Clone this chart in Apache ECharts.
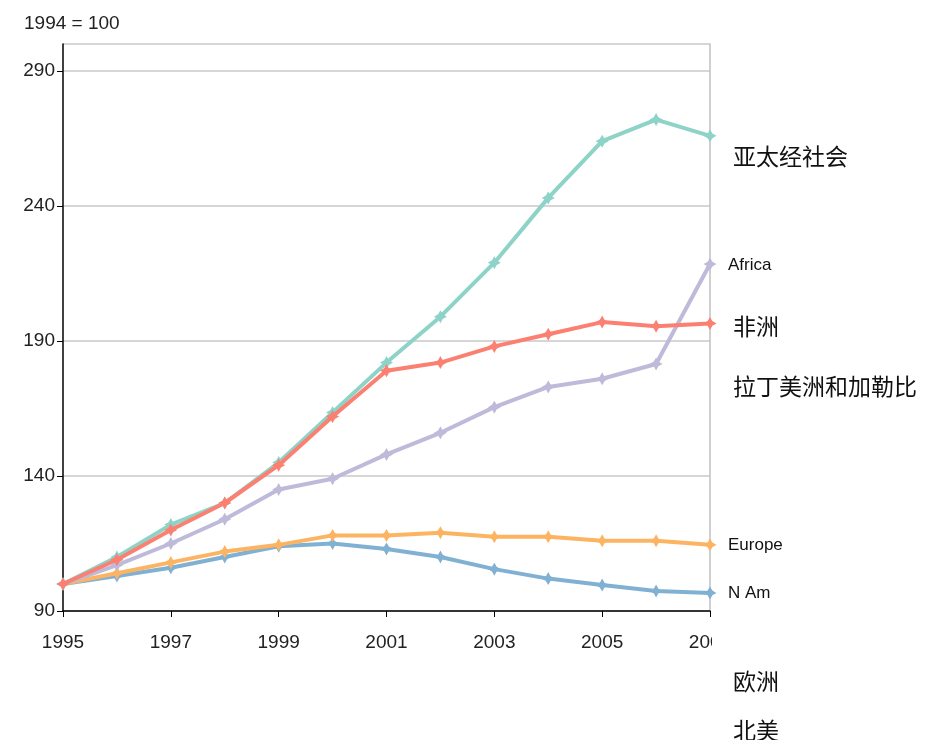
<!DOCTYPE html>
<html><head><meta charset="utf-8">
<script src="https://cdn.jsdelivr.net/npm/echarts@6/dist/echarts.min.js"></script>
<style>html,body{margin:0;padding:0;background:#fff}#c{width:925px;height:740px}</style>
</head><body><div id="c"></div>
<script>
var years = ['1995','1996','1997','1998','1999','2000','2001','2002','2003','2004','2005','2006','2007'];
var asiaPacific = [100,110,122,130,145,163.5,182,199,219,243,264,272,266];
var africaRed   = [100,109,120,130,144,162,179,182,188,192.5,197,195.5,196.5];
var latinPurple = [100,107,115,124,135,139,148,156,165.5,173,176,181.5,218.5];
var europe      = [100,104,108,112,114.5,118,118,119,117.5,117.5,116,116,114.5];
var northAm     = [100,103,106,110,114,115,113,110,105.5,102,99.6,97.4,96.7];
var yTicks = {min:90, max:300, interval:50};
var rightLabels = [
  {t:'亚太经社会', y:156, cjk:true},
  {t:'Africa', y:265, cjk:false},
  {t:'非洲', y:326, cjk:true},
  {t:'拉丁美洲和加勒比', y:386, cjk:true},
  {t:'Europe', y:545, cjk:false},
  {t:'N Am', y:593, cjk:false},
  {t:'欧洲', y:681, cjk:true},
  {t:'北美', y:730, cjk:true}
];
var colors = ['#8dd3c7','#fb8072','#bebada','#fdb462','#80b1d3'];
var starPath = 'path://M5,0 L6.8,3.2 L10,5 L6.8,6.8 L5,10 L3.2,6.8 L0,5 L3.2,3.2 Z';
var chart = echarts.init(document.getElementById('c'));
function mk(name, data, color, z){
  return {name:name, type:'line', data:data, z:z, symbol:starPath, symbolSize:13,
    lineStyle:{width:4, color:color}, itemStyle:{color:color}, animation:false};
}
var graphics = rightLabels.map(function(l){
  return {type:'text', x: l.cjk ? 733 : 728, y: l.y, z:100,
    style:{text:l.t, fill:'#111', verticalAlign:'middle', align:'left',
      font: l.cjk ? '23px "Noto Sans CJK SC"' : '17px "Liberation Sans", Arial'}};
});
graphics.push({type:'text', x:24, y:24, style:{text:'1994 = 100', fill:'#222', verticalAlign:'middle', font:'19px "Liberation Sans", Arial'}});
graphics.push({type:'rect', shape:{x:712, y:624, width:20, height:36}, style:{fill:'#fff'}, z:90});
chart.setOption({
  animation:false,
  grid:{left:63, right:215, top:44, bottom:129},
  xAxis:{type:'category', data:years, boundaryGap:false,
    axisLine:{lineStyle:{color:'#000', width:1.5}},
    axisTick:{interval:1, length:6, lineStyle:{color:'#000'}},
    axisLabel:{interval:1, color:'#222', fontSize:19, fontFamily:'"Liberation Sans", Arial', margin:22},
    splitLine:{show:false}},
  yAxis:[{type:'value', min:yTicks.min, max:yTicks.max, interval:yTicks.interval,
    axisLine:{show:true, lineStyle:{color:'#000', width:1.5}},
    axisTick:{show:true, length:6, lineStyle:{color:'#000'}},
    axisLabel:{showMaxLabel:false, color:'#222', fontSize:19, fontFamily:'"Liberation Sans", Arial', margin:8},
    splitLine:{lineStyle:{color:'#c8c8c8', width:1.5}}},
   {type:'value', position:'right', min:yTicks.min, max:yTicks.max, interval:yTicks.interval,
    axisLine:{show:true, lineStyle:{color:'#c0c0c0', width:1.5}},
    axisTick:{show:false}, axisLabel:{show:false}, splitLine:{show:false}}],
  series:[
    mk('亚太经社会', asiaPacific, colors[0], 5),
    mk('非洲', africaRed, colors[1], 6),
    mk('拉丁美洲和加勒比', latinPurple, colors[2], 4),
    mk('欧洲', europe, colors[3], 3),
    mk('北美', northAm, colors[4], 2)
  ],
  graphic:graphics
});
</script></body></html>
